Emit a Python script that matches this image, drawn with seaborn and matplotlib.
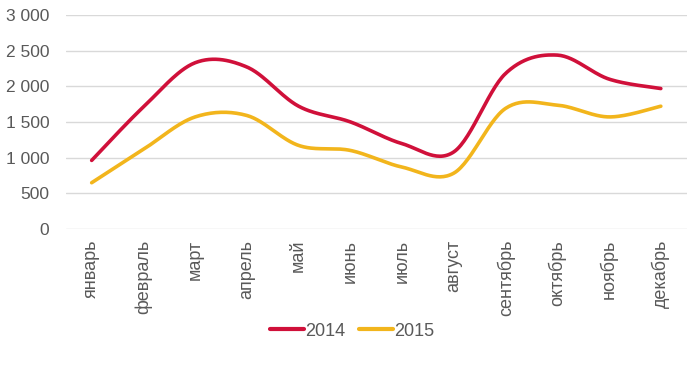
import numpy as np
import pandas as pd
import matplotlib
matplotlib.use("Agg")
import matplotlib.pyplot as plt
import seaborn as sns
from matplotlib.ticker import FuncFormatter, MultipleLocator

months = ["январь", "февраль", "март", "апрель", "май", "июнь",
          "июль", "август", "сентябрь", "октябрь", "ноябрь", "декабрь"]
values_2014 = [960, 1710, 2330, 2270, 1720, 1500, 1195, 1080, 2180, 2437, 2100, 1968]
values_2015 = [647, 1115, 1570, 1590, 1170, 1100, 866, 782, 1690, 1735, 1570, 1720]
series_names = ["2014", "2015"]
colors = ["#D0103A", "#F2B51C"]

sns.set_theme(style="white")
plt.rcParams["font.family"] = ["Liberation Sans", "DejaVu Sans"]


def smooth(y, n=30):
    """Excel-like smoothing (cubic Bezier, Catmull-Rom tangents) for drawing."""
    y = np.asarray(y, dtype=float)
    x = np.arange(len(y), dtype=float)
    pts = np.column_stack([x, y])
    ext = np.vstack([pts[0], pts, pts[-1]])
    xs, ys = [], []
    t = np.linspace(0, 1, n, endpoint=False)
    for i in range(len(pts) - 1):
        p0, p1, p2, p3 = ext[i], ext[i + 1], ext[i + 2], ext[i + 3]
        c1 = p1 + (p2 - p0) / 6.0
        c2 = p2 - (p3 - p1) / 6.0
        b = ((1 - t) ** 3)[:, None] * p1 + (3 * (1 - t) ** 2 * t)[:, None] * c1 \
            + (3 * (1 - t) * t ** 2)[:, None] * c2 + (t ** 3)[:, None] * p2
        xs.append(b[:, 0]); ys.append(b[:, 1])
    xs.append([pts[-1, 0]]); ys.append([pts[-1, 1]])
    return np.concatenate(xs), np.concatenate(ys)


frames = []
for name, vals in zip(series_names, [values_2014, values_2015]):
    sx, sy = smooth(vals)
    frames.append(pd.DataFrame({"x": sx, "y": sy, "year": name}))
df = pd.concat(frames, ignore_index=True)

fig = plt.figure(figsize=(7.0, 3.65), dpi=100)
ax = fig.add_axes([0.094, 0.373, 0.887, 0.586])

sns.lineplot(data=df, x="x", y="y", hue="year", palette=colors, linewidth=2.6,
             sort=False, ax=ax, legend=True)

ax.set_xlim(-0.5, len(months) - 0.5)
ax.set_ylim(0, 3000)
ax.yaxis.set_major_locator(MultipleLocator(500))
ax.yaxis.set_major_formatter(FuncFormatter(lambda v, p: f"{int(v):,}".replace(",", " ")))
ax.set_xticks(range(len(months)))
ax.set_xticklabels(months, rotation=90, va="top", ha="center")
ax.set_xlabel("")
ax.set_ylabel("")
ax.grid(axis="y", color="#D9D9D9", linewidth=1.0)
ax.set_axisbelow(True)
for s in ax.spines.values():
    s.set_visible(False)
ax.tick_params(axis="both", length=0, labelsize=12.5, colors="#595959")
ax.tick_params(axis="x", labelsize=13, pad=8)
ax.tick_params(axis="y", pad=12)

handles, labels = ax.get_legend_handles_labels()
leg = ax.legend(handles, labels, loc="center", bbox_to_anchor=(0.503, 0.093),
                bbox_transform=fig.transFigure, ncol=2, frameon=False,
                fontsize=13, handlelength=1.85, handletextpad=0.05, columnspacing=0.8)
for t in leg.get_texts():
    t.set_color("#595959")
for l in leg.get_lines():
    l.set_linewidth(3)

fig.savefig("out.png", dpi=100)
